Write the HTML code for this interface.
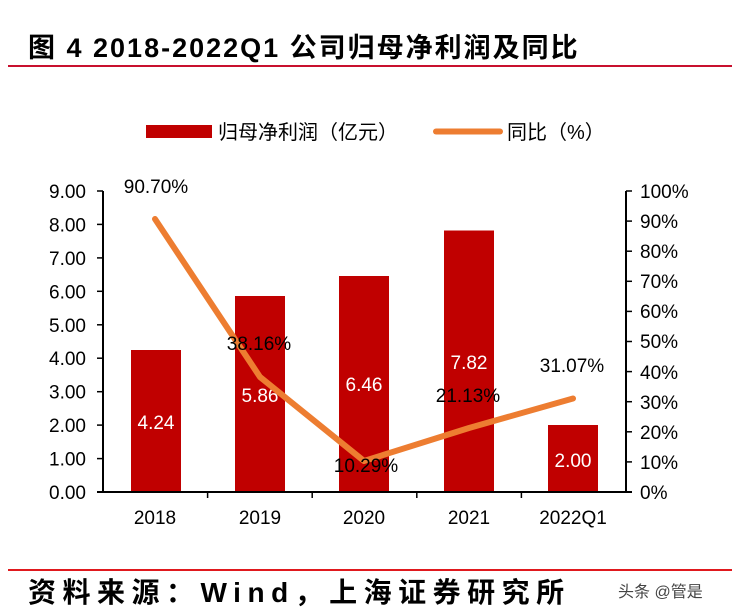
<!DOCTYPE html>
<html><head><meta charset="utf-8"><style>
body{margin:0;background:#fff;}
svg{display:block;}
text{font-family:"Liberation Sans","Noto Sans CJK SC",sans-serif;}
</style></head><body>
<svg width="732" height="613" viewBox="0 0 732 613" xmlns="http://www.w3.org/2000/svg">
<text x="28" y="57" font-size="27" font-weight="bold" fill="#000" letter-spacing="2">图 4 2018-2022Q1 公司归母净利润及同比</text>
<rect x="8" y="65" width="724" height="2" fill="#C8102E"/>
<rect x="146" y="125" width="66" height="13" fill="#C00000"/>
<text x="218" y="139" font-size="20" fill="#000">归母净利润（亿元）</text>
<line x1="436" y1="131.5" x2="500" y2="131.5" stroke="#ED7D31" stroke-width="6" stroke-linecap="round"/>
<text x="507" y="139" font-size="20" fill="#000">同比（%）</text>
<g fill="#C00000">
<rect x="131" y="350" width="50" height="142"/>
<rect x="235" y="296" width="50" height="196"/>
<rect x="339" y="276" width="50" height="216"/>
<rect x="444" y="230.5" width="50" height="261.5"/>
<rect x="548" y="425" width="50" height="67"/>
</g>
<g stroke="#000" stroke-width="2" fill="none">
<line x1="103" y1="191" x2="103" y2="493"/>
<line x1="626" y1="191" x2="626" y2="493"/>
<line x1="97" y1="492" x2="632" y2="492"/>
</g>
<g stroke="#000" stroke-width="1.5">
<line x1="97" y1="191" x2="103" y2="191"/><line x1="97" y1="224.4" x2="103" y2="224.4"/><line x1="97" y1="257.9" x2="103" y2="257.9"/><line x1="97" y1="291.3" x2="103" y2="291.3"/><line x1="97" y1="324.8" x2="103" y2="324.8"/><line x1="97" y1="358.2" x2="103" y2="358.2"/><line x1="97" y1="391.7" x2="103" y2="391.7"/><line x1="97" y1="425.1" x2="103" y2="425.1"/><line x1="97" y1="458.6" x2="103" y2="458.6"/>
<line x1="626" y1="191" x2="632" y2="191"/><line x1="626" y1="221.1" x2="632" y2="221.1"/><line x1="626" y1="251.2" x2="632" y2="251.2"/><line x1="626" y1="281.3" x2="632" y2="281.3"/><line x1="626" y1="311.4" x2="632" y2="311.4"/><line x1="626" y1="341.5" x2="632" y2="341.5"/><line x1="626" y1="371.6" x2="632" y2="371.6"/><line x1="626" y1="401.7" x2="632" y2="401.7"/><line x1="626" y1="431.8" x2="632" y2="431.8"/><line x1="626" y1="461.9" x2="632" y2="461.9"/>
<line x1="207.6" y1="492" x2="207.6" y2="498"/><line x1="312.2" y1="492" x2="312.2" y2="498"/><line x1="416.8" y1="492" x2="416.8" y2="498"/><line x1="521.4" y1="492" x2="521.4" y2="498"/>
</g>
<g font-size="19" fill="#000" text-anchor="end">
<text x="86" y="198">9.00</text><text x="86" y="231.4">8.00</text><text x="86" y="264.9">7.00</text><text x="86" y="298.3">6.00</text><text x="86" y="331.8">5.00</text><text x="86" y="365.2">4.00</text><text x="86" y="398.7">3.00</text><text x="86" y="432.1">2.00</text><text x="86" y="465.6">1.00</text><text x="86" y="499">0.00</text>
</g>
<g font-size="19" fill="#000">
<text x="640" y="198">100%</text><text x="640" y="228">90%</text><text x="640" y="258">80%</text><text x="640" y="288">70%</text><text x="640" y="318">60%</text><text x="640" y="348">50%</text><text x="640" y="379">40%</text><text x="640" y="409">30%</text><text x="640" y="439">20%</text><text x="640" y="469">10%</text><text x="640" y="499">0%</text>
</g>
<g font-size="19" fill="#000" text-anchor="middle">
<text x="155" y="524">2018</text><text x="260" y="524">2019</text><text x="364" y="524">2020</text><text x="469" y="524">2021</text><text x="573" y="524">2022Q1</text>
</g>
<g font-size="19" fill="#fff" text-anchor="middle">
<text x="156" y="429">4.24</text><text x="260" y="402">5.86</text><text x="364" y="391">6.46</text><text x="469" y="369">7.82</text><text x="573" y="467">2.00</text>
</g>
<polyline points="155,219 260,377 364,461 469,428 573,398.5" fill="none" stroke="#ED7D31" stroke-width="6" stroke-linejoin="round" stroke-linecap="round"/>
<g font-size="19" fill="#000" text-anchor="middle">
<text x="156" y="193">90.70%</text><text x="259" y="350">38.16%</text><text x="366" y="472">10.29%</text><text x="468" y="402">21.13%</text><text x="572" y="372">31.07%</text>
</g>
<rect x="8" y="569" width="724" height="2" fill="#E0191E"/>
<text x="28" y="602" font-size="28" font-weight="bold" fill="#000" letter-spacing="6.5">资料来源：Wind，上海证券研究所</text>
<text x="618" y="597" font-size="16" fill="#444">头条 @管是</text>
</svg>
</body></html>
